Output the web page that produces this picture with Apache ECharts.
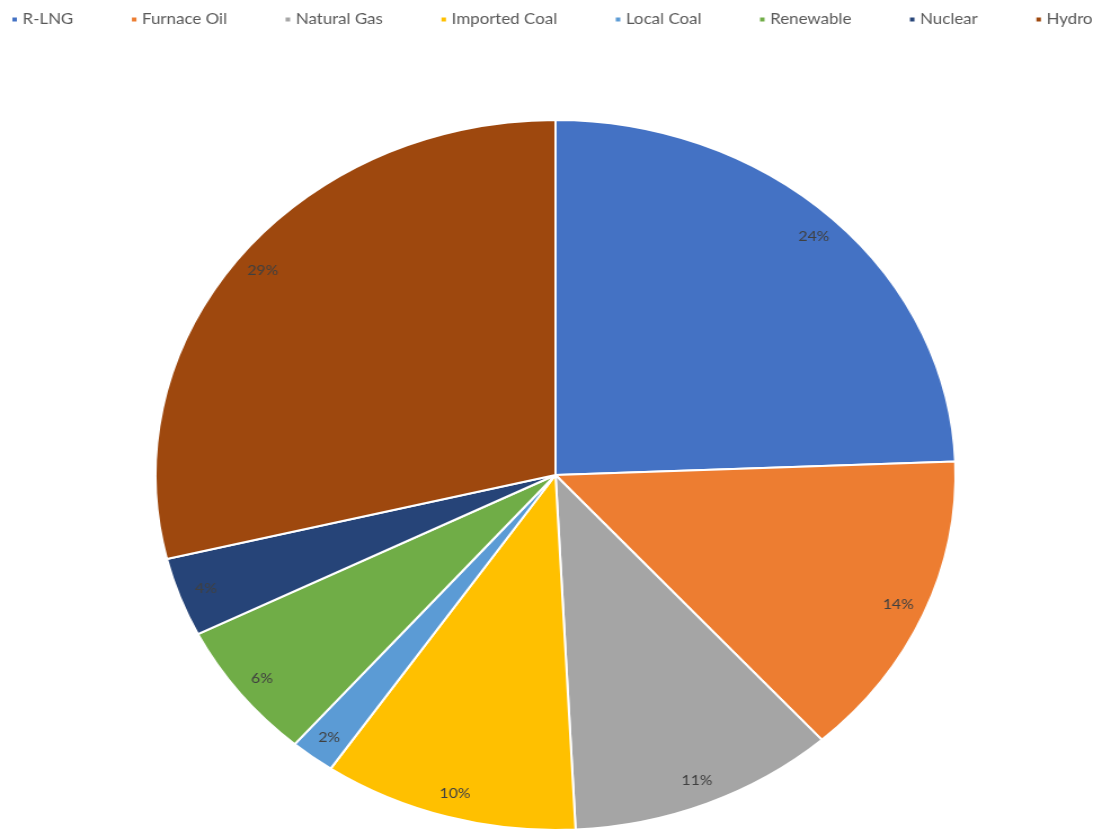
<!DOCTYPE html>
<html>
<head>
<meta charset="utf-8">
<script src="https://cdn.jsdelivr.net/npm/echarts@6/dist/echarts.min.js"></script>
<style>
html,body{margin:0;padding:0;background:#fff;overflow:hidden;}
#wrap{width:1111px;height:833px;overflow:hidden;}
#chart{width:986px;height:833px;transform:scaleX(1.1268);transform-origin:0 0;}
</style>
</head>
<body>
<div id="wrap"><div id="chart"></div></div>
<script>
const categories = ['R-LNG','Furnace Oil','Natural Gas','Imported Coal','Local Coal','Renewable','Nuclear','Hydro'];
const values = [24.4, 14.0, 10.8, 10.3, 1.8, 6.3, 3.6, 28.8];
const colors = ['#4472C4','#ED7D31','#A5A5A5','#FFC000','#5B9BD5','#70AD47','#264478','#9E480E'];

const data = categories.map((c,i)=>({name:c,value:values[i]}));
const chart = echarts.init(document.getElementById('chart'));
chart.setOption({
  animation:false,
  color:colors,
  legend:{
    top:7,left:4,
    itemWidth:6,itemHeight:6,itemGap:50,icon:'rect',
    textStyle:{fontFamily:'Lato',fontSize:15,color:'#595959',padding:[0,0,0,-1]},
    data:categories
  },
  series:[
    {
      type:'pie',
      center:['50%',475],
      radius:[0,355],
      startAngle:90,
      data:data,
      label:{show:false},labelLine:{show:false},
      itemStyle:{borderColor:'#fff',borderWidth:2},
      emphasis:{disabled:true}
    },
    {
      type:'pie',
      center:['50%',475],
      radius:[300,355],
      startAngle:90,
      silent:true,
      percentPrecision:0,
      data:data,
      itemStyle:{color:'transparent',borderWidth:0},
      label:{show:true,position:'inside',formatter:'{d}%',fontFamily:'Lato',fontSize:14,color:'#404040'},
      labelLine:{show:false},
      emphasis:{disabled:true}
    }
  ]
});
</script>
</body>
</html>
